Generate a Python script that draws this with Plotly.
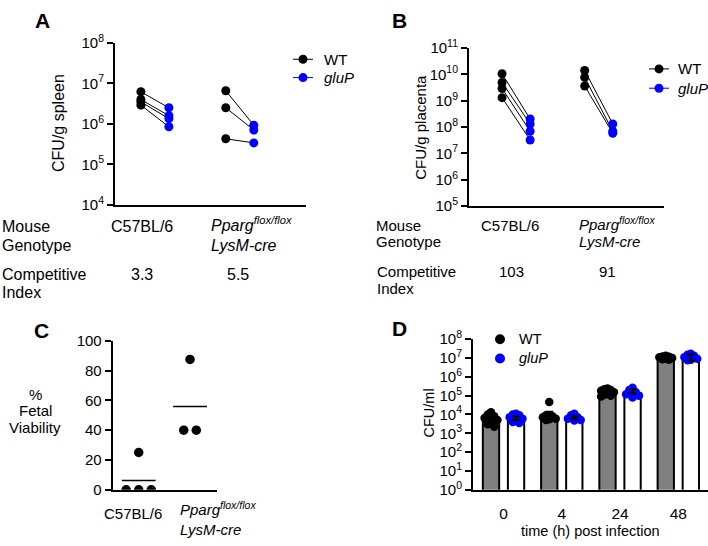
import numpy as np
import plotly.graph_objects as go

W, H = 708, 546
FONT = "Liberation Sans, Arial, sans-serif"
BLUE = "#0000ff"

# ---------------- data ----------------
groups = ["C57BL/6", "Pparg"]
series_names = ["WT", "gluP"]
# Panel A: CFU/g spleen
a_wt_c57 = [6.2e6, 4.0e6, 3.5e6, 2.9e6]
a_glu_c57 = [2.5e6, 1.6e6, 1.35e6, 8.5e5]
a_wt_pp = [6.6e6, 2.5e6, 4.3e5]
a_glu_pp = [9.3e5, 7.1e5, 3.4e5]
a_ci = ["3.3", "5.5"]
# Panel B: CFU/g placenta
b_wt_c57 = [1.05e10, 4.9e9, 2.9e9, 1.3e9]
b_glu_c57 = [2.0e8, 1.3e8, 6.9e7, 3.2e7]
b_wt_pp = [1.4e10, 7.6e9, 3.6e9]
b_glu_pp = [1.3e8, 6.9e7, 5.8e7]
b_ci = ["103", "91"]
# Panel C: % fetal viability
c_c57 = [0, 25, 0, 0]
c_pp = [87.5, 40, 40]
# Panel D: CFU/ml over time
times = ["0", "4", "24", "48"]
d_wt_mean = [4.8e3, 6.5e3, 1.4e5, 8.0e6]
d_glu_mean = [5.0e3, 5.5e3, 1.35e5, 7.0e6]
d_wt_upper = [9.0e3, 1.4e4, 2.0e5, 1.1e7]
d_glu_upper = [8.0e3, 8.0e3, 2.2e5, 1.6e7]
d_wt_pts = [
    [1.3e4, 1.0e4, 8e3, 6.5e3, 5e3, 4e3, 3e3, 2.2e3],
    [4.6e4, 9e3, 8e3, 7e3, 6e3, 5.5e3, 5e3],
    [2.4e5, 2.2e5, 2.0e5, 1.8e5, 1.5e5, 1.3e5, 1.1e5, 1.0e5, 9e4],
    [1.3e7, 1.2e7, 1.15e7, 1.1e7, 1.0e7, 9e6, 8.5e6, 8e6],
]
d_glu_pts = [
    [1.1e4, 1.0e4, 9e3, 7e3, 6e3, 5e3, 4e3, 3.5e3],
    [1.1e4, 9e3, 7e3, 6e3, 5e3, 4.8e3],
    [2.6e5, 2.0e5, 1.5e5, 1.2e5, 1.0e5, 8e4],
    [1.7e7, 1.5e7, 1.3e7, 1.1e7, 9e6, 8e6, 7.5e6],
]

# ---------------- helpers ----------------
def xd(a, b):
    return [a / W, b / W]


def yd(top, bottom):
    return [1 - bottom / H, 1 - top / H]


def ann(x, y, text, xanchor="center", size=15, angle=0, bold=False):
    if bold:
        text = "<b>" + text + "</b>"
    return dict(x=x / W, y=1 - y / H, xref="paper", yref="paper", text=text,
                showarrow=False, xanchor=xanchor, yanchor="middle", textangle=angle,
                font=dict(size=size, color="black", family=FONT))


def pow_ticks(lo, hi):
    return [10.0 ** k for k in range(lo, hi + 1)], ["10<sup>%d</sup>" % k for k in range(lo, hi + 1)]


def spread_equal(vals, step):
    offs = np.zeros(len(vals))
    for v in set(vals):
        idx = [i for i, u in enumerate(vals) if u == v]
        n = len(idx)
        for k, i in enumerate(idx):
            offs[i] = (k - (n - 1) / 2) * step
    return offs


def swarm(n, step):
    pattern = [0, -1, 1, -2, 2]
    return np.array([pattern[i % 5] * step for i in range(n)])


fig = go.Figure()

# ---------------- panels A & B (paired dots) ----------------
def paired(xax, yax, wt_lists, glu_lists, off):
    for g, (wt, glu) in enumerate(zip(wt_lists, glu_lists)):
        lx, ly = [], []
        for w, b in zip(wt, glu):
            lx += [g - off, g + off, None]
            ly += [w, b, None]
        fig.add_trace(go.Scatter(x=lx, y=ly, mode="lines", line=dict(color="black", width=1),
                                 xaxis=xax, yaxis=yax, showlegend=False, hoverinfo="skip"))
    for g, wt in enumerate(wt_lists):
        fig.add_trace(go.Scatter(x=[g - off] * len(wt), y=wt, mode="markers",
                                 marker=dict(color="black", size=9), xaxis=xax, yaxis=yax,
                                 showlegend=False))
    for g, glu in enumerate(glu_lists):
        fig.add_trace(go.Scatter(x=[g + off] * len(glu), y=glu, mode="markers",
                                 marker=dict(color=BLUE, size=9), xaxis=xax, yaxis=yax,
                                 showlegend=False))


paired("x", "y", [a_wt_c57, a_wt_pp], [a_glu_c57, a_glu_pp], 0.165)
paired("x2", "y2", [b_wt_c57, b_wt_pp], [b_glu_c57, b_glu_pp], 0.17)

# ---------------- panel C ----------------
for g, vals in enumerate([c_c57, c_pp]):
    offs = spread_equal(vals, 0.245)
    fig.add_trace(go.Scatter(x=g + offs, y=vals, mode="markers",
                             marker=dict(color="black", size=9.5), xaxis="x3", yaxis="y3",
                             showlegend=False))
    m = float(np.mean(vals))
    fig.add_trace(go.Scatter(x=[g - 0.33, g + 0.33], y=[m, m], mode="lines",
                             line=dict(color="black", width=1.5), xaxis="x3", yaxis="y3",
                             showlegend=False))

# ---------------- panel D ----------------
xg = np.arange(len(times))
boff, bw = 0.215, 0.28
fig.add_trace(go.Bar(x=xg - boff, y=d_wt_mean, width=bw, marker=dict(color="#808080",
                     line=dict(color="black", width=2)), xaxis="x4", yaxis="y4", showlegend=False))
fig.add_trace(go.Bar(x=xg + boff, y=d_glu_mean, width=bw, marker=dict(color="white",
                     line=dict(color="black", width=2)), xaxis="x4", yaxis="y4", showlegend=False))

for pts, sign, col in [(d_wt_pts, -1, "black"), (d_glu_pts, 1, BLUE)]:
    xs, ys = [], []
    for g, vals in enumerate(pts):
        xs += list(g + sign * boff + swarm(len(vals), 0.055))
        ys += vals
    fig.add_trace(go.Scatter(x=xs, y=ys, mode="markers",
                             marker=dict(color=col, size=8.5), xaxis="x4", yaxis="y4",
                             showlegend=False))

for means, upper, sign in [(d_wt_mean, d_wt_upper, -1), (d_glu_mean, d_glu_upper, 1)]:
    plus = [u - m for u, m in zip(upper, means)]
    fig.add_trace(go.Scatter(x=xg + sign * boff, y=means, mode="markers",
                             marker=dict(size=1, color="rgba(0,0,0,0)"),
                             error_y=dict(type="data", symmetric=False, array=plus,
                                          arrayminus=[0] * len(plus), color="black",
                                          thickness=2, width=4),
                             xaxis="x4", yaxis="y4", showlegend=False, hoverinfo="skip"))

# ---------------- hand-drawn legends on a pixel overlay axis ----------------
# (marker x, first row y, row gap, line half-length, text x, with line, text size, marker size)
legend_specs = [(303, 50, 19, 10, 322, True, 15, 9),
                (659, 60, 20, 10, 676, True, 15, 9),
                (500, 340, 20, 0, 517, False, 14.5, 10)]
annots = []
for mx, my, gap, half, tx, with_line, fs, ms in legend_specs:
    for k, (nm, col) in enumerate(zip(series_names, ["black", BLUE])):
        yy = my + k * gap
        if with_line:
            fig.add_trace(go.Scatter(x=[mx - half, mx + half], y=[yy, yy], mode="lines",
                                     line=dict(color=col, width=1), xaxis="x5", yaxis="y5",
                                     showlegend=False, hoverinfo="skip"))
        fig.add_trace(go.Scatter(x=[mx], y=[yy], mode="markers", marker=dict(color=col, size=ms),
                                 xaxis="x5", yaxis="y5", showlegend=False, hoverinfo="skip"))
        label = nm if nm == "WT" else "<i>%s</i>" % nm
        annots.append(ann(tx, yy, label, xanchor="left", size=fs))

# ---------------- axes ----------------
tickfont = dict(size=15, color="black", family=FONT)
base_y = dict(showline=True, linecolor="black", linewidth=2, showgrid=False, zeroline=False,
              ticks="outside", ticklen=6, tickwidth=2, tickcolor="black", tickfont=tickfont)
base_x = dict(showline=True, linecolor="black", linewidth=2, showgrid=False, zeroline=False,
              ticks="", showticklabels=False)

tvA, ttA = pow_ticks(4, 8)
tvB, ttB = pow_ticks(5, 11)
tvD, ttD = pow_ticks(0, 8)

layout = dict(
    width=W, height=H, autosize=False, margin=dict(l=0, r=0, t=0, b=0),
    paper_bgcolor="white", plot_bgcolor="rgba(0,0,0,0)", font=dict(family=FONT, color="black"),
    showlegend=False,
    xaxis=dict(base_x, domain=xd(115, 306), range=[-0.47, 1.78], anchor="y"),
    yaxis=dict(base_y, domain=yd(33, 201), type="log", range=[4, 8], tickvals=tvA, ticktext=ttA, anchor="x"),
    xaxis2=dict(base_x, domain=xd(469, 664), range=[-0.57, 1.79], anchor="y2"),
    yaxis2=dict(base_y, domain=yd(38.3, 202), type="log", range=[5, 11], tickvals=tvB, ticktext=ttB, anchor="x2"),
    xaxis3=dict(base_x, domain=xd(112.7, 216.7), range=[-0.507, 1.52], anchor="y3"),
    yaxis3=dict(base_y, domain=yd(341.7, 496), range=[0, 100], tickvals=[0, 20, 40, 60, 80, 100], anchor="x3"),
    xaxis4=dict(base_x, domain=xd(473, 708), range=[-0.524, 3.51], anchor="y4", showticklabels=True,
                tickvals=list(xg), ticktext=times, tickfont=dict(tickfont, size=15.5), ticks="outside",
                ticklen=9, tickcolor="rgba(0,0,0,0)"),
    yaxis4=dict(base_y, domain=yd(340, 496), type="log", range=[0, 8], tickvals=tvD, ticktext=ttD, anchor="x4"),
    xaxis5=dict(domain=[0, 1], range=[0, W], visible=False, fixedrange=True, anchor="y5"),
    yaxis5=dict(domain=[0, 1], range=[H, 0], visible=False, fixedrange=True, anchor="x5"),
    barmode="overlay",
)

annots += [
    ann(42, 10, "A", size=21, bold=True),
    ann(399, 10, "B", size=21, bold=True),
    ann(41, 331, "C", size=21, bold=True),
    ann(399, 329, "D", size=21, bold=True),
    # y titles
    ann(59, 116, "CFU/g spleen", size=16, angle=-90),
    ann(421, 121, "CFU/g placenta", size=15, angle=-90),
    ann(429, 417, "CFU/ml", size=14.5, angle=-90),
    # panel A table
    ann(0, 223, "Mouse", xanchor="left", size=16),
    ann(0, 243, "Genotype", xanchor="left", size=16),
    ann(0, 273, "Competitive", xanchor="left", size=16),
    ann(0, 292, "Index", xanchor="left", size=16),
    ann(142, 223, groups[0], size=16),
    ann(209, 221, "<i>Pparg<sup>flox/flox</sup></i>", xanchor="left", size=16),
    ann(209, 243, "<i>LysM-cre</i>", xanchor="left", size=16),
    ann(142, 273, a_ci[0], size=16),
    ann(238, 273, a_ci[1], size=16),
    # panel B table
    ann(374, 222, "Mouse", xanchor="left", size=15),
    ann(374, 239, "Genotype", xanchor="left", size=15),
    ann(375, 270, "Competitive", xanchor="left", size=15),
    ann(375, 287, "Index", xanchor="left", size=15),
    ann(510, 222, groups[0], size=15),
    ann(577, 220, "<i>Pparg<sup>flox/flox</sup></i>", xanchor="left", size=15),
    ann(577, 239, "<i>LysM-cre</i>", xanchor="left", size=15),
    ann(511, 270, b_ci[0], size=15),
    ann(607, 270, b_ci[1], size=15),
    # panel C labels
    ann(35, 397, "%", size=15),
    ann(35, 414, "Fetal", size=15),
    ann(35, 432, "Viability", size=15),
    ann(133, 521, groups[0], size=15),
    ann(178, 515, "<i>Pparg<sup>flox/flox</sup></i>", xanchor="left", size=15),
    ann(178, 537, "<i>LysM-cre</i>", xanchor="left", size=15),
    # panel D x title
    ann(590, 539, "time (h) post infection", size=14.5),
]
layout["annotations"] = annots

fig.update_layout(**layout)
fig.write_html("out.html")
